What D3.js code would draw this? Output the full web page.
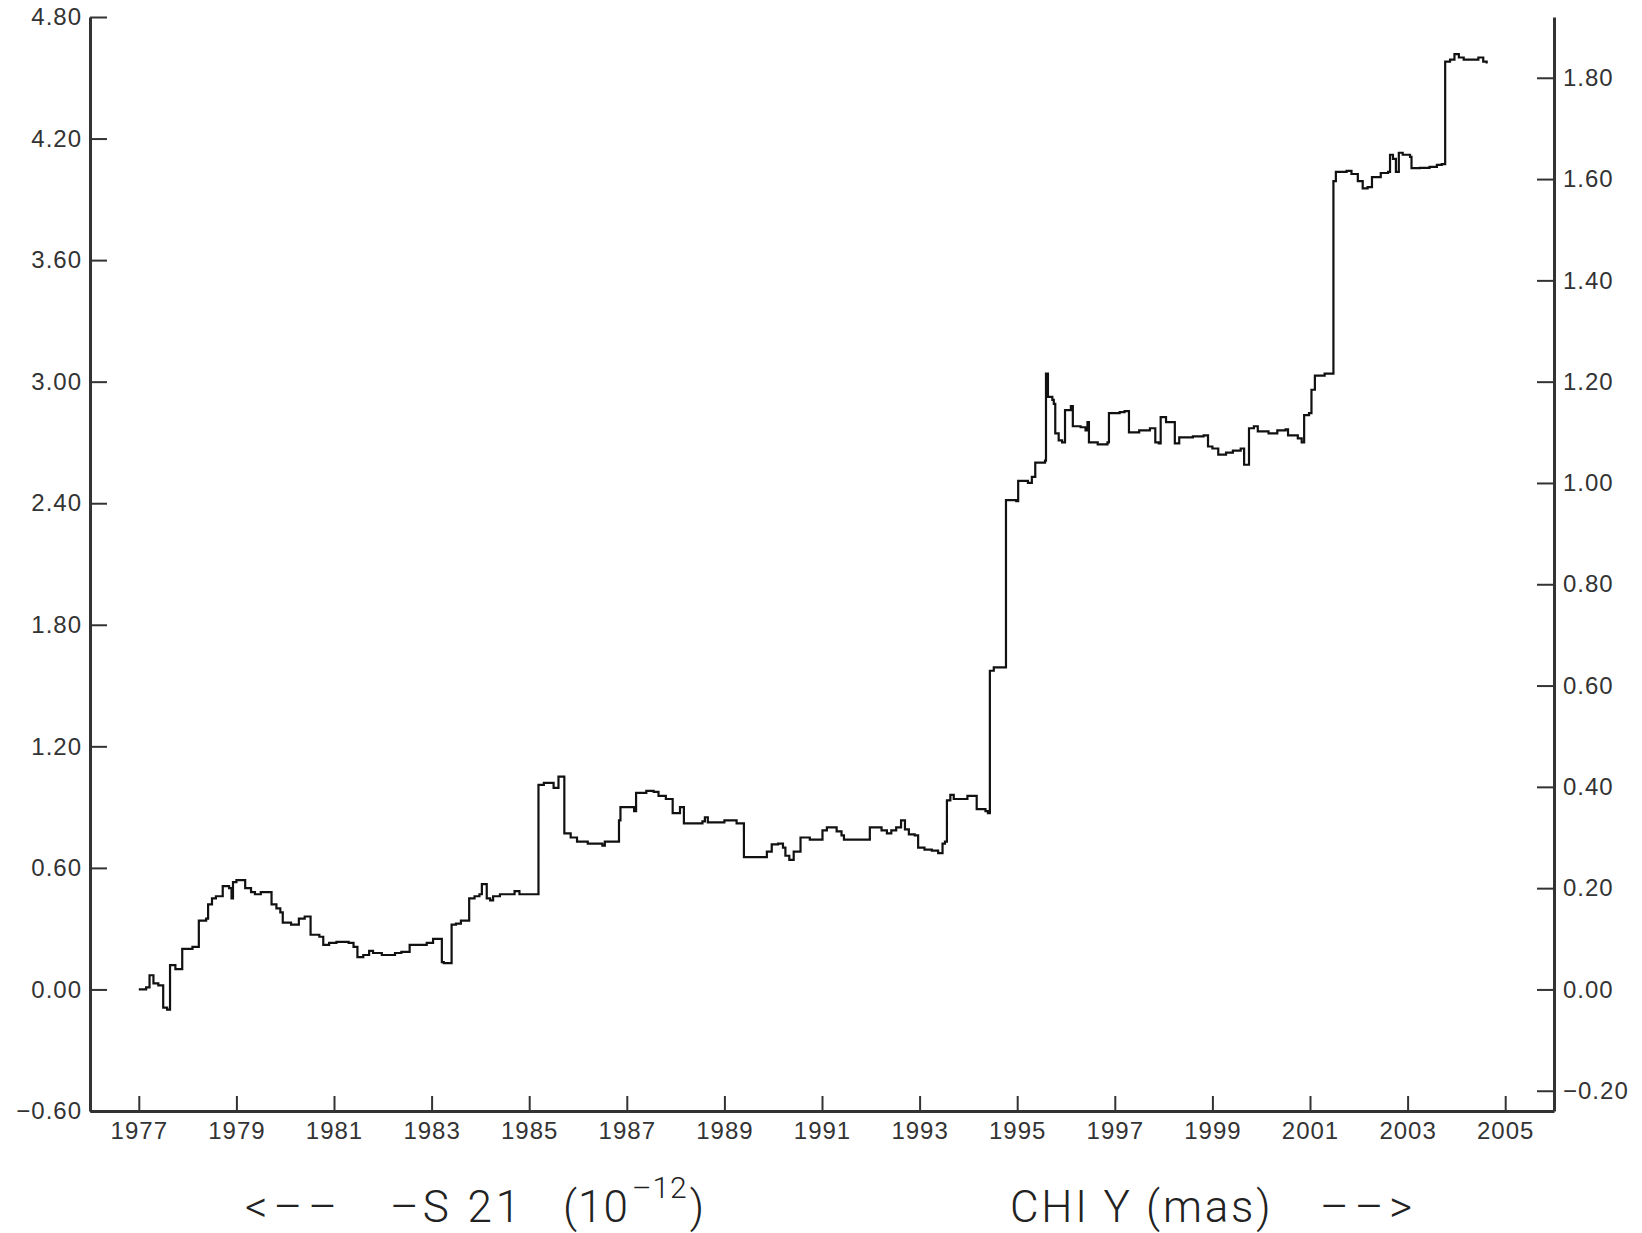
<!DOCTYPE html>
<html>
<head>
<meta charset="utf-8">
<script src="https://cdn.jsdelivr.net/npm/d3@7"></script>
<style>
  html, body { margin: 0; padding: 0; background: #fff; }
  svg { display: block; }
  .tick text { font-family: "Liberation Sans", Arial, sans-serif; font-size: 24px; letter-spacing: 1px; fill: #333; }
  .title { font-family: Roboto, Inter, "Liberation Sans", sans-serif; font-weight: 300; font-size: 44px; letter-spacing: 1.5px; fill: #222; white-space: pre; }
</style>
</head>
<body>
<script>
// Epoch (years) at which each level of the series begins
const epochs = [
  1977.00, 1977.15, 1977.22, 1977.30, 1977.40, 1977.50, 1977.58, 1977.64, 1977.75, 1977.89,
  1978.10, 1978.23, 1978.38, 1978.42, 1978.50, 1978.58, 1978.72, 1978.85, 1978.90, 1978.93,
  1979.00, 1979.18, 1979.30, 1979.38, 1979.50, 1979.72, 1979.82, 1979.90, 1979.95, 1980.12,
  1980.28, 1980.40, 1980.52, 1980.70, 1980.78, 1980.90, 1981.05, 1981.30, 1981.40, 1981.48,
  1981.60, 1981.72, 1981.80, 1981.98, 1982.25, 1982.38, 1982.55, 1982.90, 1983.03, 1983.21,
  1983.25, 1983.41, 1983.50, 1983.60, 1983.77, 1983.88, 1983.98, 1984.03, 1984.13, 1984.20,
  1984.26, 1984.40, 1984.70, 1984.80, 1985.19, 1985.30, 1985.50, 1985.60, 1985.72, 1985.85,
  1985.98, 1986.20, 1986.50, 1986.55, 1986.84, 1986.87, 1987.15, 1987.19, 1987.40, 1987.55,
  1987.65, 1987.80, 1987.94, 1988.09, 1988.17, 1988.55, 1988.60, 1988.66, 1989.00, 1989.25,
  1989.40, 1989.87, 1989.97, 1990.10, 1990.20, 1990.25, 1990.33, 1990.42, 1990.56, 1990.75,
  1991.01, 1991.10, 1991.30, 1991.40, 1991.45, 1991.98, 1992.22, 1992.33, 1992.42, 1992.52,
  1992.62, 1992.70, 1992.78, 1992.90, 1992.97, 1993.10, 1993.25, 1993.38, 1993.47, 1993.52,
  1993.56, 1993.63, 1993.70, 1993.98, 1994.17, 1994.35, 1994.40, 1994.44, 1994.52, 1994.77,
  1994.98, 1995.02, 1995.22, 1995.30, 1995.37, 1995.57, 1995.59, 1995.63, 1995.72, 1995.75,
  1995.78, 1995.85, 1995.92, 1995.98, 1996.10, 1996.14, 1996.30, 1996.40, 1996.44, 1996.47,
  1996.65, 1996.85, 1996.88, 1997.10, 1997.20, 1997.29, 1997.50, 1997.72, 1997.83, 1997.90,
  1997.94, 1998.05, 1998.23, 1998.32, 1998.60, 1998.82, 1998.91, 1999.00, 1999.12, 1999.28,
  1999.42, 1999.58, 1999.65, 1999.75, 1999.85, 1999.93, 2000.15, 2000.33, 2000.50, 2000.55,
  2000.75, 2000.83, 2000.88, 2000.98, 2001.03, 2001.10, 2001.30, 2001.48, 2001.53, 2001.75,
  2001.85, 2001.98, 2002.08, 2002.18, 2002.27, 2002.45, 2002.60, 2002.64, 2002.70, 2002.76,
  2002.82, 2002.90, 2003.05, 2003.08, 2003.25, 2003.45, 2003.60, 2003.70, 2003.77, 2003.87,
  2003.96, 2004.05, 2004.15, 2004.45, 2004.55, 2004.62
];

// -S21 in units of 1e-12 (left axis); CHI Y in mas is the same curve on the right axis
const minusS21 = [
  0.00, 0.01, 0.07, 0.03, 0.02, -0.09, -0.10, 0.12, 0.10, 0.20,
  0.21, 0.34, 0.35, 0.42, 0.45, 0.46, 0.51, 0.50, 0.45, 0.53,
  0.54, 0.50, 0.48, 0.47, 0.48, 0.42, 0.40, 0.38, 0.33, 0.32,
  0.35, 0.36, 0.27, 0.26, 0.22, 0.23, 0.235, 0.23, 0.21, 0.16,
  0.17, 0.19, 0.18, 0.17, 0.18, 0.185, 0.22, 0.23, 0.25, 0.135,
  0.13, 0.32, 0.325, 0.34, 0.45, 0.46, 0.47, 0.52, 0.45, 0.44,
  0.46, 0.47, 0.485, 0.47, 1.01, 1.02, 0.995, 1.05, 0.77, 0.75,
  0.73, 0.72, 0.71, 0.73, 0.835, 0.90, 0.88, 0.97, 0.98, 0.975,
  0.955, 0.94, 0.87, 0.90, 0.82, 0.83, 0.85, 0.825, 0.835, 0.82,
  0.653, 0.68, 0.716, 0.72, 0.70, 0.66, 0.64, 0.68, 0.75, 0.74,
  0.785, 0.80, 0.78, 0.76, 0.74, 0.80, 0.785, 0.77, 0.785, 0.80,
  0.835, 0.79, 0.765, 0.76, 0.70, 0.69, 0.685, 0.673, 0.72, 0.73,
  0.933, 0.96, 0.94, 0.955, 0.89, 0.88, 0.87, 1.573, 1.59, 2.415,
  2.41, 2.51, 2.50, 2.53, 2.60, 2.61, 3.04, 2.925, 2.91, 2.89,
  2.745, 2.71, 2.70, 2.86, 2.88, 2.78, 2.775, 2.76, 2.80, 2.70,
  2.69, 2.70, 2.845, 2.85, 2.855, 2.75, 2.76, 2.77, 2.70, 2.695,
  2.825, 2.80, 2.695, 2.725, 2.73, 2.735, 2.68, 2.67, 2.64, 2.65,
  2.66, 2.67, 2.59, 2.77, 2.78, 2.755, 2.745, 2.76, 2.765, 2.735,
  2.72, 2.70, 2.835, 2.845, 2.96, 3.03, 3.04, 3.99, 4.036, 4.04,
  4.025, 3.99, 3.954, 3.96, 4.01, 4.03, 4.036, 4.12, 4.10, 4.036,
  4.13, 4.12, 4.11, 4.054, 4.055, 4.06, 4.07, 4.074, 4.58, 4.59,
  4.617, 4.60, 4.59, 4.60, 4.58, 4.57
];

// Axis ticks
const yearTicks = [1977, 1979, 1981, 1983, 1985, 1987, 1989, 1991, 1993, 1995, 1997, 1999, 2001, 2003, 2005];
const leftTicks = [-0.6, 0.0, 0.6, 1.2, 1.8, 2.4, 3.0, 3.6, 4.2, 4.8];
const rightTicks = [-0.2, 0.0, 0.2, 0.4, 0.6, 0.8, 1.0, 1.2, 1.4, 1.6, 1.8];

const W = 1642, H = 1233;
const plotL = 90, plotR = 1554, plotT = 17, plotB = 1111;

const svg = d3.select("body").append("svg")
  .attr("width", W).attr("height", H)
  .attr("viewBox", `0 0 ${W} ${H}`);

const x = d3.scaleLinear().domain([1976, 2006]).range([plotL, plotR]);
const y = d3.scaleLinear().domain([-0.6, 4.8]).range([plotB, plotT]);
const y2 = d3.scaleLinear().domain([-0.24, 1.92]).range([plotB, plotT]);

const fmt = d3.format(".2f");

function styleAxis(g) {
  g.select(".domain").attr("stroke", "#333").attr("stroke-width", 3);
  g.selectAll(".tick line").attr("stroke", "#333").attr("stroke-width", 2);
}

// Bottom axis: ticks point inward
svg.append("g")
  .attr("transform", `translate(0,${plotB})`)
  .call(d3.axisBottom(x).tickValues(yearTicks).tickFormat(d3.format("d"))
    .tickSizeInner(-15).tickSizeOuter(0).tickPadding(11))
  .call(styleAxis);

// Left axis: -S21
svg.append("g")
  .attr("transform", `translate(${plotL},0)`)
  .call(d3.axisLeft(y).tickValues(leftTicks).tickFormat(fmt)
    .tickSizeInner(-17).tickSizeOuter(0).tickPadding(8))
  .call(styleAxis);

// Right axis: CHI Y
svg.append("g")
  .attr("transform", `translate(${plotR},0)`)
  .call(d3.axisRight(y2).tickValues(rightTicks).tickFormat(fmt)
    .tickSizeInner(-17).tickSizeOuter(0).tickPadding(9))
  .call(styleAxis);

svg.selectAll(".tick text").attr("font-family", null).attr("font-size", null).attr("fill", null);

// Series
const series = d3.zip(epochs, minusS21);
svg.append("path")
  .datum(series)
  .attr("fill", "none")
  .attr("stroke", "#111")
  .attr("stroke-width", 2.2)
  .attr("stroke-linejoin", "miter")
  .attr("d", d3.line().x(d => x(d[0])).y(d => y(d[1])).curve(d3.curveStepAfter));

// Axis titles under the plot
const base = 1222;
function title(txt, x0, ls) {
  const t = svg.append("text").attr("class", "title")
    .attr("x", x0).attr("y", base).text(txt);
  if (ls != null) t.style("letter-spacing", ls + "px");
  return t;
}
title("<\u2013\u2013", 245, 6);
title("\u2013S 21", 390, 4);

// "(10^-12)" with a raised exponent
const unit = svg.append("text").attr("class", "title")
  .attr("x", 563).attr("y", base).style("letter-spacing", "1px");
unit.append("tspan").text("(10");
unit.append("tspan").attr("dx", 3).attr("dy", -24).style("font-size", "30px").text("\u201312");
unit.append("tspan").attr("dx", 2).attr("dy", 24).text(")");

title("CHI Y (mas)", 1010, 2.8);
title("\u2013\u2013>", 1320, 6);
</script>
</body>
</html>
